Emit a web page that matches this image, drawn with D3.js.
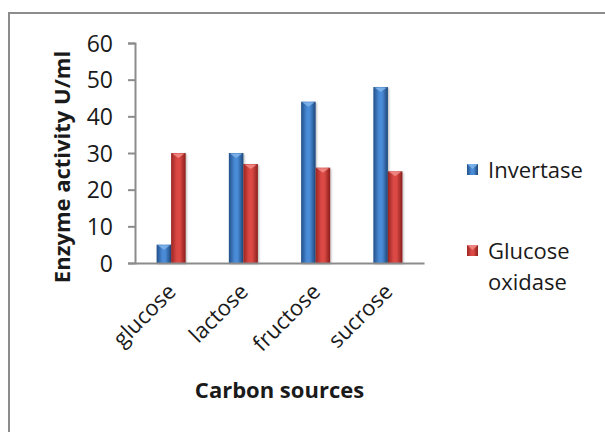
<!DOCTYPE html>
<html>
<head>
<meta charset="utf-8">
<script src="https://cdn.jsdelivr.net/npm/d3@7"></script>
<style>
  html, body { margin: 0; padding: 0; background: #fff; }
  svg { display: block; }
  text { font-family: "Open Sans", "Liberation Sans", sans-serif; fill: #1a1a1a; }
</style>
</head>
<body>
<svg id="chart" width="605" height="432"></svg>
<script>
const categories = ["glucose", "lactose", "fructose", "sucrose"];
const seriesNames = ["Invertase", "Glucose oxidase"];
const invertase = [5, 30, 44, 48];
const glucoseOxidase = [30, 27, 26, 25];
const yTicks = [0, 10, 20, 30, 40, 50, 60];

const series = [
  { name: seriesNames[0], values: invertase, key: "blue" },
  { name: seriesNames[1], values: glucoseOxidase, key: "red" }
];

const svg = d3.select("#chart");
const W = 605, H = 432;
const plot = { left: 135, right: 424, top: 43, bottom: 263 };

// chart frame
svg.append("rect")
  .attr("x", 9).attr("y", 13)
  .attr("width", W + 10).attr("height", H + 10)
  .attr("fill", "#fff")
  .attr("stroke", "#8c8c8c").attr("stroke-width", 2);

// gradients for the bevelled bars
const defs = svg.append("defs");
const palettes = {
  blue: { edge: "#22508a", mid: "#4a8bd6", dark: "#1d4679", cap: "#7fb2ea" },
  red:  { edge: "#9a2421", mid: "#dc4a45", dark: "#8a1f1c", cap: "#f08a85" }
};
Object.entries(palettes).forEach(([k, p]) => {
  const g = defs.append("linearGradient").attr("id", "grad-" + k)
    .attr("x1", "0%").attr("x2", "100%").attr("y1", "0%").attr("y2", "0%");
  g.append("stop").attr("offset", "0%").attr("stop-color", p.edge);
  g.append("stop").attr("offset", "40%").attr("stop-color", p.mid);
  g.append("stop").attr("offset", "60%").attr("stop-color", p.mid);
  g.append("stop").attr("offset", "100%").attr("stop-color", p.dark);
});
const shadow = defs.append("filter").attr("id", "shadow")
  .attr("x", "-30%").attr("y", "-10%").attr("width", "160%").attr("height", "130%");
shadow.append("feDropShadow").attr("dx", 1).attr("dy", 1)
  .attr("stdDeviation", 1).attr("flood-color", "#000").attr("flood-opacity", 0.3);

const x = d3.scaleBand().domain(categories).range([plot.left, plot.right]).paddingInner(0).paddingOuter(0);
const inner = d3.scaleBand().domain(seriesNames).range([0, 29]);
const bandOffset = (x.bandwidth() - 29) / 2;
const y = d3.scaleLinear().domain([0, 60]).range([plot.bottom, plot.top]);

// bars
series.forEach(s => {
  const p = palettes[s.key];
  const g = svg.append("g");
  categories.forEach((c, i) => {
    const bx = x(c) + bandOffset + inner(s.name);
    const bw = inner.bandwidth();
    const top = y(s.values[i]);
    g.append("rect")
      .attr("x", bx).attr("y", top)
      .attr("width", bw).attr("height", y(0) - top)
      .attr("fill", "url(#grad-" + s.key + ")")
      .attr("filter", "url(#shadow)");
    // bevelled cap at the top of each bar
    const capH = Math.min(5, (y(0) - top) / 2);
    g.append("path")
      .attr("d", `M${bx + 1},${top + 0.5} L${bx + bw - 1},${top + 0.5} L${bx + bw / 2},${top + capH} Z`)
      .attr("fill", p.cap).attr("opacity", 0.9);
  });
});

// y axis
const yAxis = svg.append("g")
  .attr("transform", `translate(${plot.left},0)`)
  .call(d3.axisLeft(y).tickValues(yTicks).tickSize(7).tickPadding(15).tickFormat(d3.format("d")));
yAxis.select(".domain").attr("stroke", "#8c8c8c").attr("stroke-width", 2);
yAxis.selectAll(".tick line").attr("stroke", "#8c8c8c").attr("stroke-width", 2);
yAxis.selectAll(".tick text")
  .style("font-size", "23px").attr("fill", "#1a1a1a").attr("dy", "0.35em");

// x axis baseline
const xAxis = svg.append("g")
  .attr("transform", `translate(0,${plot.bottom})`)
  .call(d3.axisBottom(x).tickSize(0).tickFormat(""));
xAxis.select(".domain").attr("stroke", "#8c8c8c").attr("stroke-width", 2);

// rotated category labels
svg.append("g").selectAll("text")
  .data(categories).join("text")
  .attr("transform", d => `translate(${x(d) + x.bandwidth() / 2 + 6},${plot.bottom + 30}) rotate(-45)`)
  .attr("text-anchor", "end")
  .style("font-size", "22px")
  .text(d => d);

// axis titles
svg.append("text")
  .attr("x", (plot.left + plot.right) / 2).attr("y", 398)
  .attr("text-anchor", "middle")
  .style("font-size", "22px").style("font-weight", "bold")
  .text("Carbon sources");

svg.append("text")
  .attr("transform", `translate(70,167) rotate(-90)`)
  .attr("text-anchor", "middle")
  .style("font-size", "22px").style("font-weight", "bold")
  .text("Enzyme activity U/ml");

// legend
const legend = svg.append("g");
const legendRows = [
  { s: series[0], lines: ["Invertase"], cy: 170 },
  { s: series[1], lines: ["Glucose", "oxidase"], cy: 251 }
];
legendRows.forEach(r => {
  legend.append("rect")
    .attr("x", 467).attr("y", r.cy - 6).attr("width", 11).attr("height", 11)
    .attr("fill", "url(#grad-" + r.s.key + ")");
  legend.append("path")
    .attr("d", `M467,${r.cy - 6} L478,${r.cy - 6} L472.5,${r.cy - 1} Z`)
    .attr("fill", palettes[r.s.key].cap).attr("opacity", 0.9);
  const t = legend.append("text").attr("x", 488).attr("y", r.cy + 8).style("font-size", "22px");
  r.lines.forEach((ln, i) => {
    t.append("tspan").attr("x", 488).attr("dy", i === 0 ? 0 : 31).text(ln);
  });
});
</script>
</body>
</html>
